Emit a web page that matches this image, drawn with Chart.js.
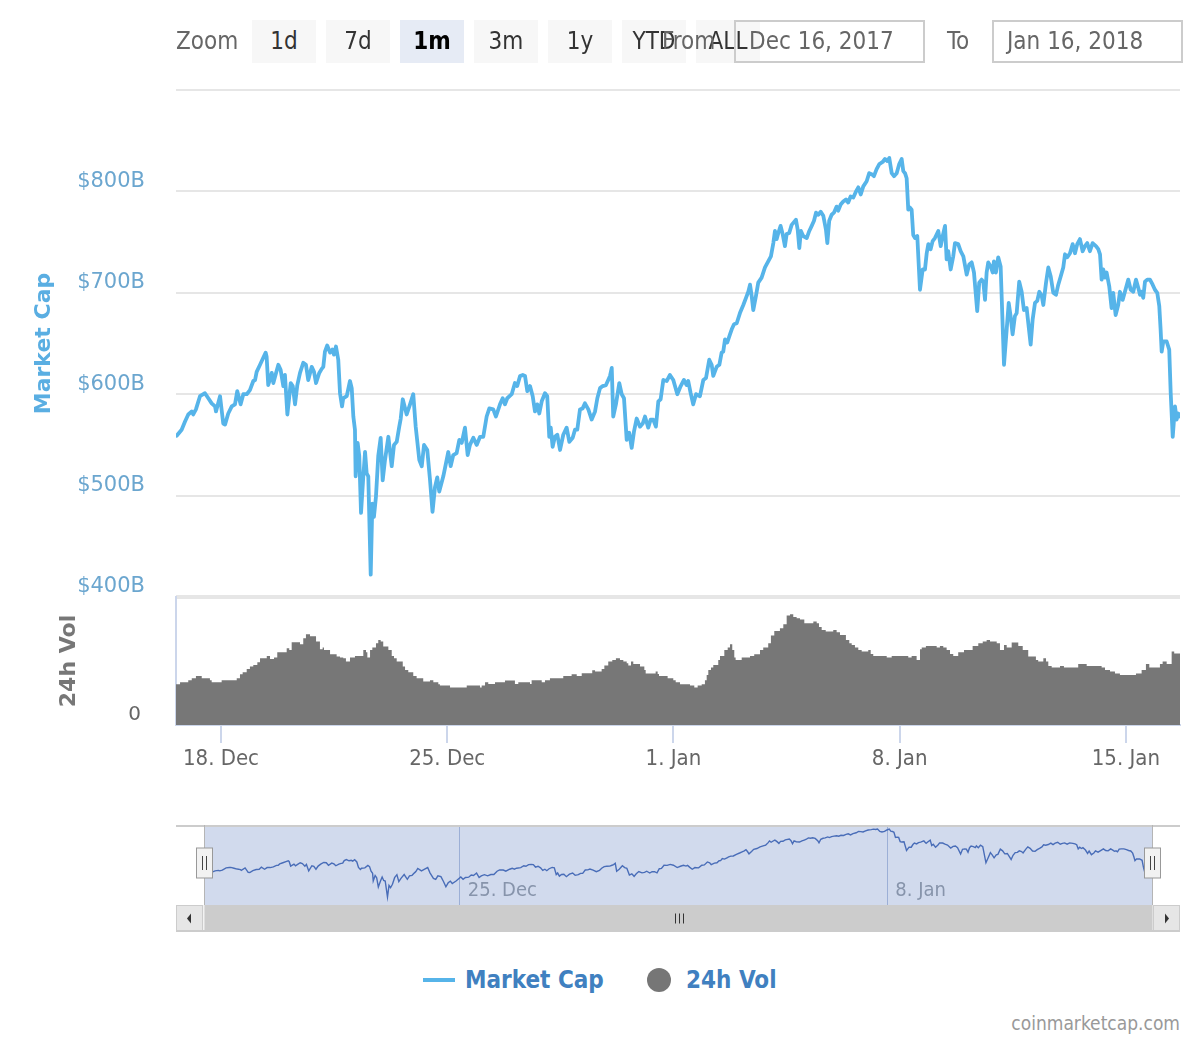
<!DOCTYPE html>
<html>
<head>
<meta charset="utf-8">
<script src="https://cdn.jsdelivr.net/npm/chart.js@4/dist/chart.umd.min.js"></script>
<style>
  body { margin:0; background:#fff; width:1200px; height:1040px; position:relative; overflow:hidden;
         font-family:"DejaVu Sans Condensed","DejaVu Sans",sans-serif; }
  canvas { position:absolute; left:0; }
  #main { top:0; }
  #nav { top:825px; }
  .lbl { position:absolute; font-size:24px; color:#666; line-height:43px; top:20px; white-space:nowrap; z-index:3; }
  .btn { position:absolute; top:20px; width:64px; height:43px; background:#f7f7f7; color:#333; font-size:24px;
         text-align:center; line-height:43px; z-index:2; }
  .btn.sel { background:#e6ebf5; color:#000; font-weight:bold; }
  .inp { position:absolute; top:20px; height:39px; border:2px solid #ccc; color:#666; font-size:24px;
         line-height:39px; padding-left:13px; box-sizing:content-box; z-index:4; }
  .leg { position:absolute; font-size:24px; font-weight:bold; color:#4080c0; line-height:30px; top:965px; }
  #credit { position:absolute; right:20px; top:1012px; font-size:19px; color:#999; }
</style>
</head>
<body>
<div class="lbl" style="left:176px;">Zoom</div>
<div class="btn" style="left:252px;">1d</div>
<div class="btn" style="left:326px;">7d</div>
<div class="btn sel" style="left:400px;">1m</div>
<div class="btn" style="left:474px;">3m</div>
<div class="btn" style="left:548px;">1y</div>
<div class="btn" style="left:622px;">YTD</div>
<div class="btn" style="left:696px;">ALL</div>
<div class="lbl" style="left:662px;">From</div>
<div class="inp" style="left:734px;width:174px;">Dec 16, 2017</div>
<div class="lbl" style="left:947px;">To</div>
<div class="inp" style="left:992px;width:174px;">Jan 16, 2018</div>

<canvas id="main" width="1200" height="785"></canvas>
<canvas id="nav" width="1200" height="110"></canvas>

<div style="position:absolute;left:423px;top:978px;width:32px;height:4px;background:#56b4e9;"></div>
<div class="leg" style="left:465px;">Market Cap</div>
<div style="position:absolute;left:647px;top:968px;width:24px;height:24px;border-radius:50%;background:#767676;"></div>
<div class="leg" style="left:686px;">24h Vol</div>
<div id="credit">coinmarketcap.com</div>

<script>
// ---- Data (hours since 16 Dec 2017 00:00) ----
const capHours = [
 15.1,18.8,21.3,23.7,26.3,27.4,29.4,32.4,34.9,36.1,
 38.6,41.1,43.6,44.3,47.3,49.7,51.0,53.4,56.0,58.4,
 60.1,62.6,64.6,67.1,69.5,72.0,73.3,74.5,77.0,79.4,
 81.2,81.9,83.1,85.7,86.9,88.9,90.6,92.3,94.3,95.5,
 97.3,99.8,101.3,103.0,104.7,106.7,109.1,111.1,112.8,115.4,
 117.1,118.6,121.0,122.8,124.0,125.2,126.9,129.0,130.7,131.9,
 133.4,135.1,136.4,137.9,138.8,141.4,143.8,145.1,146.3,147.5,
 148.0,149.5,150.7,152.0,153.7,155.0,156.2,157.4,159.2,160.4,
 161.6,163.1,164.8,166.6,168.1,169.8,172.3,174.8,176.5,178.5,
 180.4,181.5,183.0,185.9,188.4,190.8,192.6,195.3,197.1,
 198.8,201.2,203.2,205.1,206.9,208.6,210.1,213.1,216.8,218.6,220.5,
 223.0,225.0,226.8,229.2,231.2,232.9,235.4,237.9,240.4,242.8,
 245.3,247.3,250.2,252.2,255.2,257.2,258.9,260.6,263.9,266.3,
 268.0,270.1,272.1,273.8,275.5,277.5,279.5,281.2,282.9,284.4,
 286.2,288.6,290.3,291.8,292.9,294.3,296.0,297.8,299.8,302.2,
 304.7,306.7,309.2,310.9,312.6,314.6,316.6,318.3,320.8,323.3,
 325.8,327.5,329.5,331.5,333.9,335.6,336.9,338.2,339.3,341.3,
 343.8,345.6,347.3,349.3,351.2,353.0,354.7,356.7,359.2,361.2,
 362.9,365.3,367.1,369.0,371.0,372.8,374.5,376.5,379.0,381.4,
 383.9,386.9,389.4,391.8,393.8,395.0,396.8,398.7,400.8,403.7,
 406.2,408.2,410.6,412.4,413.6,416.1,418.1,419.8,421.0,422.3,
 424.0,426.0,427.3,429.0,431.0,433.4,435.9,437.9,439.6,440.9,
 442.1,443.3,445.3,447.0,449.5,452.0,454.4,456.4,458.2,459.4,
 460.7,461.9,463.6,465.1,466.8,468.1,470.0,471.8,475.0,476.3,
 477.5,478.7,480.4,483.0,484.9,486.7,488.4,489.9,491.6,493.4,
 495.3,497.3,498.3,499.7,501.5,503.2,505.2,506.4,508.2,510.1,
 512.1,513.8,515.6,517.6,519.6,521.3,523.1,525.0,527.5,529.4,
 531.2,532.9,534.9,536.9,539.4,541.1,542.8,544.3,546.1,547.8,
 549.8,551.7,553.5,554.7,556.0,557.2,558.4,559.7,560.9,562.1,
 563.4,565.1,567.1,569.1,570.8,572.1,573.3,575.0,576.5,578.2,
 580.7,582.5,584.0,585.7,586.9,588.1,589.9,591.8,593.1,595.5,
 597.3,599.3,601.8,603.7,605.5,607.2,609.6,611.1,612.9,614.1,
 615.4,616.6,617.8,619.6,621.1,622.0,623.5,625.2,627.0,629.5,
 631.5,633.0,634.4,635.9,637.6,638.9,640.8,642.6,644.3,646.3,
 649.3,650.8,652.5,654.2,655.7,657.5,658.7,660.7,662.4,664.2,
 666.1,668.1,669.8,671.6,673.5,674.8,676.5,678.5,680.5,682.2,
 683.9,685.9,687.9,689.6,691.3,693.3,695.3,697.8,699.5,700.8,
 702.0,703.2,704.5,705.7,707.7,709.4,710.6,712.4,714.3,715.6,
 717.6,719.3,721.8,723.6,725.5,727.5,729.2,730.5,731.7,732.9,
 734.2,735.9,737.9,739.9,741.6,743.3,744.8,745.8,746.6,747.8,
 750.3,752.2,753.3,754.8,756.5,757.7,758.9,760.2
];
// Market cap, billions USD
const capValues = [
 559,565,573,580,583,580,585,598,600,601,
 596,591,588,583,598,571,570,581,588,590,
 603,590,600,600,604,613,614,622,629,636,
 641,637,609,621,611,621,629,624,608,619,
 580,611,608,590,609,621,631,629,614,627,
 622,611,621,625,627,642,648,641,644,639,
 647,634,601,588,596,598,613,606,578,565,
 519,552,539,483,519,543,522,519,422,492,
 479,499,539,557,515,535,558,529,550,553,
 568,576,595,580,590,600,568,535,529,
 550,545,516,484,508,518,504,519,543,529,540,
 542,555,552,567,540,550,557,550,558,558,
 578,586,585,578,590,596,590,596,600,611,
 608,618,619,618,603,608,598,583,590,581,
 593,601,598,558,567,548,558,560,545,560,
 567,553,557,565,565,585,586,591,585,575,
 583,596,606,608,609,614,618,626,578,590,
 611,600,596,555,562,547,563,576,568,571,
 578,567,575,575,568,593,595,614,613,619,
 614,600,608,614,609,613,601,590,600,598,
 614,616,634,629,618,627,629,641,642,654,
 651,659,664,669,670,680,688,695,701,708,
 697,683,697,710,715,725,731,736,749,761,
 753,759,766,758,746,758,759,767,772,762,
 744,761,756,754,761,766,771,779,777,780,
 776,762,749,771,777,779,785,781,787,790,
 792,789,795,794,800,804,797,805,810,818,
 817,815,822,827,829,832,830,833,818,815,
 818,827,832,820,818,813,782,784,782,757,
 754,756,703,723,723,739,748,743,751,754,
 761,746,756,766,733,741,723,736,749,748,
 741,736,718,728,730,720,682,710,713,711,
 693,720,730,726,720,731,720,735,726,629,
 664,690,677,659,677,680,711,701,683,685,
 649,674,690,692,701,697,688,710,725,716,
 700,698,708,716,725,738,735,739,748,739,
 748,753,741,746,749,741,749,746,743,738,
 713,723,715,720,706,685,700,678,688,701,
 693,701,713,703,701,713,705,698,701,695,
 711,713,713,708,703,700,687,664,642,652,
 652,644,601,558,588,575,581,578
];
// 24h volume: hour at which each level starts, billions USD
const volHours = [
 14.6,17.6,23.7,26.3,29.4,33.7,39.8,41.1,48.5,59.7,
 62.1,64.1,67.1,69.5,72.0,75.0,77.0,82.0,84.4,87.4,
 89.8,96.8,98.7,100.5,106.7,109.1,111.1,114.1,118.6,121.5,
 123.5,124.5,129.0,133.9,136.4,138.8,140.8,143.8,147.5,153.7,
 155.7,156.7,158.7,160.4,163.1,164.8,166.6,168.5,172.3,174.8,
 176.5,178.5,183.0,184.7,187.1,190.8,193.3,198.2,203.2,205.7,
 209.4,210.6,218.1,230.5,240.4,241.6,244.1,246.5,251.5,258.9,
 266.3,268.8,277.5,278.7,286.2,288.6,292.3,302.2,308.4,312.2,
 315.9,323.7,325.8,330.7,332.7,335.6,338.6,341.3,344.3,346.8,
 349.3,350.5,352.5,354.2,359.2,362.4,363.4,370.8,372.3,373.3,
 379.7,383.9,385.7,388.9,396.3,399.5,402.0,405.0,407.4,408.7,
 409.9,411.9,413.6,417.3,418.6,421.8,424.3,426.0,427.7,429.2,
 430.2,434.7,440.9,444.0,448.3,450.7,454.4,456.4,458.9,463.1,
 465.6,468.1,470.6,473.0,475.5,478.0,481.2,487.9,490.4,492.1,
 494.1,497.1,502.7,505.2,507.7,512.1,514.6,516.4,518.8,521.3,
 523.8,528.7,530.5,532.4,542.4,546.1,558.4,560.9,564.6,567.1,
 568.4,571.5,579.5,581.9,584.4,586.9,589.4,591.8,595.5,599.8,
 606.2,610.4,613.7,616.6,619.1,624.1,626.5,629.5,631.5,635.2,
 640.1,643.4,647.5,653.2,654.9,658.7,660.7,662.4,664.9,671.1,
 674.0,684.6,690.9,702.0,704.5,708.2,711.9,715.6,727.5,731.7,
 734.9,737.4,745.3,747.3,750.3,754.0,755.9,758.2,760.2
];
const volValues = [
 19.7,20.4,21.4,22.4,23.4,24.5,23.4,22.4,21.4,22.4,
 23.4,25.4,26.4,28.0,29.2,30.0,31.4,33.4,34.5,33.0,
 33.7,36.4,38.4,37.5,41.4,40.4,43.4,45.4,44.4,41.7,
 37.9,38.7,37.5,35.4,34.2,33.7,33.4,31.7,33.7,34.5,
 37.5,36.4,33.7,37.5,38.7,40.9,42.5,41.7,39.2,37.5,
 34.5,33.4,31.7,29.2,27.5,26.4,24.5,23.4,21.7,22.4,
 21.4,20.4,19.7,18.7,19.7,18.7,19.7,21.4,20.5,21.4,
 22.2,20.5,21.4,20.5,22.4,21.4,22.4,23.4,24.5,25.4,
 24.5,25.9,27.4,26.7,28.0,29.7,31.7,32.5,33.4,32.5,
 31.7,30.9,29.7,31.7,30.5,29.2,27.5,25.7,26.7,25.5,
 24.5,23.4,22.4,21.4,20.4,19.7,18.7,19.7,20.4,22.4,
 25.0,27.5,28.7,30.0,32.5,34.5,37.5,38.7,40.4,37.5,
 33.7,32.5,33.7,34.5,35.4,37.5,38.7,40.9,44.7,47.0,
 48.4,50.4,54.7,55.4,54.0,53.4,52.7,50.9,51.7,50.9,
 49.0,47.5,46.7,47.5,46.4,45.0,42.5,40.9,40.0,38.7,
 37.5,36.7,37.5,35.5,34.5,33.7,34.5,33.7,34.5,32.5,
 37.9,38.7,39.5,38.7,39.5,38.7,37.5,35.5,34.5,36.4,
 37.5,39.5,40.9,41.7,42.5,41.7,40.9,37.5,40.0,38.7,
 41.2,39.5,37.5,34.2,32.5,31.7,33.4,31.7,29.5,28.7,
 29.5,28.7,30.5,29.5,28.7,27.5,26.7,25.7,25.0,25.7,
 27.5,30.5,28.7,30.5,31.7,30.5,36.7,35.8,35.8
];
const xTickHours = [48, 216, 384, 552, 720];
const xTickLabels = ['18. Dec', '25. Dec', '1. Jan', '8. Jan', '15. Jan'];
const navTickHours = [216, 552];
const navTickLabels = ['25. Dec', '8. Jan'];
const capTicks = [400, 500, 600, 700, 800, 900];
const capTickLabels = ['$400B', '$500B', '$600B', '$700B', '$800B', ''];
const volTicks = [0];
const volTickLabels = ['0'];

const nCap = Math.min(capHours.length, capValues.length);
const capPoints = [];
for (let i = 0; i < nCap; i++) capPoints.push({ x: capHours[i], y: capValues[i] });
const nVol = Math.min(volHours.length, volValues.length);
const volPoints = [];
for (let i = 0; i < nVol; i++) volPoints.push({ x: volHours[i], y: volValues[i] });

const xMin = volHours[0];
const xMax = volHours[nVol - 1];

const LINE = '#56b4e9';
const COND = 'DejaVu Sans Condensed';
const SANS = 'DejaVu Sans';

Chart.defaults.animation = false;

new Chart(document.getElementById('main'), {
  type: 'line',
  data: {
    datasets: [
      { label: 'Market Cap', data: capPoints, yAxisID: 'yCap', borderColor: LINE, borderWidth: 3.8,
        pointRadius: 0, tension: 0, fill: false, borderJoinStyle: 'round', borderCapStyle: 'round' },
      { label: '24h Vol', data: volPoints, yAxisID: 'yVol', stepped: 'after', borderWidth: 0,
        borderColor: 'rgba(0,0,0,0)', backgroundColor: '#777777', pointRadius: 0, fill: 'origin' }
    ]
  },
  options: {
    responsive: false, devicePixelRatio: 1, animation: false, events: [],
    layout: { padding: { top: 90, right: 20, left: 0, bottom: 0 } },
    plugins: { legend: { display: false }, tooltip: { enabled: false } },
    scales: {
      x: {
        type: 'linear', min: xMin, max: xMax,
        afterBuildTicks: s => { s.ticks = xTickHours.map(v => ({ value: v })); },
        afterFit: s => { s.height = 60; },
        grid: { drawOnChartArea: false, drawTicks: true, tickLength: 18, color: '#ccd6eb', lineWidth: 2 },
        border: { display: true, color: '#ccd6eb', width: 2 },
        ticks: { autoSkip: false, maxRotation: 0, padding: 3, color: '#666',
          font: { family: COND, size: 22 },
          callback: v => { const i = xTickHours.indexOf(v); return i >= 0 ? xTickLabels[i] : ''; } }
      },
      yCap: {
        type: 'linear', position: 'left', stack: 'panes', stackWeight: 507, weight: 1,
        min: 400, max: 900,
        afterBuildTicks: s => { s.ticks = capTicks.map(v => ({ value: v })); },
        afterFit: s => { s.width = 176; },
        grid: { color: '#e6e6e6', lineWidth: c => (c.tick && c.tick.value === 400 ? 4 : 2), drawTicks: false },
        border: { display: false },
        ticks: { padding: 31, labelOffset: -10, color: '#6ba6cf', font: { family: SANS, size: 21 },
          callback: v => { const i = capTicks.indexOf(v); return i >= 0 ? capTickLabels[i] : ''; } },
        title: { display: true, text: 'Market Cap', color: '#5aaee2',
          font: { family: SANS, size: 22, weight: 'bold' }, padding: { top: 31, bottom: 0 } }
      },
      yVol: {
        type: 'linear', position: 'left', stack: 'panes', stackWeight: 128, weight: 0,
        min: 0, max: 64,
        afterBuildTicks: s => { s.ticks = volTicks.map(v => ({ value: v })); },
        afterFit: s => { s.width = 176; },
        grid: { display: false, drawTicks: false },
        border: { display: true, color: '#ccd6eb', width: 2 },
        ticks: { padding: 35, labelOffset: -10, color: '#666', font: { family: SANS, size: 20 },
          callback: v => { const i = volTicks.indexOf(v); return i >= 0 ? volTickLabels[i] : ''; } },
        title: { display: true, text: '24h Vol', color: '#777',
          font: { family: SANS, size: 22, weight: 'bold' }, padding: { top: 56, bottom: 0 } }
      }
    }
  }
});

// ---- Navigator ----
const navChrome = {
  id: 'navChrome',
  afterDatasetsDraw(chart) {
    const { ctx, chartArea: a, scales } = chart;
    ctx.save();
    ctx.font = '20px "' + COND + '"';
    ctx.fillStyle = '#8794ab';
    ctx.textAlign = 'left';
    ctx.textBaseline = 'alphabetic';
    navTickHours.forEach((h, i) => {
      ctx.fillText(navTickLabels[i], scales.x.getPixelForValue(h) + 8, a.bottom - 9);
    });
    ctx.restore();
  },
  afterDraw(chart) {
    const { ctx, chartArea: a, scales } = chart;
    const xa = Math.round(scales.x.getPixelForValue(capHours[0])) + 0.5;
    const xb = Math.round(scales.x.getPixelForValue(capHours[nCap - 1])) + 0.5;
    ctx.save();
    ctx.strokeStyle = '#cccccc'; ctx.lineWidth = 2;
    ctx.beginPath(); ctx.moveTo(a.left, a.top + 1); ctx.lineTo(a.right, a.top + 1); ctx.stroke();
    ctx.strokeStyle = '#b5b5b5'; ctx.lineWidth = 1;
    ctx.beginPath(); ctx.moveTo(xa, a.top); ctx.lineTo(xa, a.bottom);
    ctx.moveTo(xb, a.top); ctx.lineTo(xb, a.bottom); ctx.stroke();
    [xa, xb].forEach(x => {
      const hy = a.top + 23;
      ctx.fillStyle = '#f2f2f2'; ctx.strokeStyle = '#999'; ctx.lineWidth = 1;
      ctx.fillRect(x - 8, hy, 16, 30); ctx.strokeRect(x - 8, hy, 16, 30);
      ctx.strokeStyle = '#444';
      ctx.beginPath(); ctx.moveTo(x - 2, hy + 8); ctx.lineTo(x - 2, hy + 22);
      ctx.moveTo(x + 2, hy + 8); ctx.lineTo(x + 2, hy + 22); ctx.stroke();
    });
    const sy = a.bottom, sh = 27;
    ctx.fillStyle = '#f2f2f2'; ctx.fillRect(a.left, sy, a.right - a.left, sh);
    ctx.fillStyle = '#cccccc'; ctx.fillRect(xa, sy, xb - xa, sh);
    ctx.fillStyle = '#e6e6e6'; ctx.strokeStyle = '#cccccc';
    ctx.fillRect(a.left, sy, 27, sh); ctx.strokeRect(a.left + 0.5, sy + 0.5, 26, sh - 1);
    ctx.fillRect(a.right - 27, sy, 27, sh); ctx.strokeRect(a.right - 26.5, sy + 0.5, 26, sh - 1);
    ctx.strokeStyle = '#cccccc'; ctx.lineWidth = 2;
    ctx.beginPath(); ctx.moveTo(a.left, sy + sh - 1); ctx.lineTo(a.right, sy + sh - 1); ctx.stroke();
    ctx.fillStyle = '#333';
    const cy = sy + sh / 2;
    ctx.beginPath(); ctx.moveTo(a.left + 11, cy); ctx.lineTo(a.left + 15, cy - 5); ctx.lineTo(a.left + 15, cy + 5); ctx.fill();
    ctx.beginPath(); ctx.moveTo(a.right - 11, cy); ctx.lineTo(a.right - 15, cy - 5); ctx.lineTo(a.right - 15, cy + 5); ctx.fill();
    const mid = Math.round((xa + xb) / 2) + 0.5;
    ctx.strokeStyle = '#333'; ctx.lineWidth = 1;
    ctx.beginPath();
    [-4, 0, 4].forEach(d => { ctx.moveTo(mid + d, cy - 5); ctx.lineTo(mid + d, cy + 5); });
    ctx.stroke();
    ctx.restore();
  }
};

new Chart(document.getElementById('nav'), {
  type: 'line',
  data: {
    datasets: [
      { label: 'mask', data: [{ x: capHours[0], y: 857 }, { x: capHours[nCap - 1], y: 857 }],
        borderWidth: 0, borderColor: 'rgba(0,0,0,0)', backgroundColor: 'rgba(102,133,194,0.3)',
        pointRadius: 0, fill: 'start' },
      { label: 'nav', data: capPoints, borderColor: '#3d63b3', borderWidth: 1.4, pointRadius: 0,
        tension: 0, fill: false }
    ]
  },
  options: {
    responsive: false, devicePixelRatio: 1, animation: false, events: [],
    layout: { padding: { top: 0, right: 20, left: 176, bottom: 30 } },
    plugins: { legend: { display: false }, tooltip: { enabled: false } },
    scales: {
      x: {
        type: 'linear', min: -7, max: 782,
        afterBuildTicks: s => { s.ticks = navTickHours.map(v => ({ value: v })); },
        afterFit: s => { s.height = 0; },
        grid: { drawOnChartArea: true, drawTicks: false, color: '#b3c2df', lineWidth: 1 },
        border: { display: false },
        ticks: { display: false }
      },
      y: { display: false, min: 374, max: 857 }
    }
  },
  plugins: [navChrome]
});
</script>
</body>
</html>
